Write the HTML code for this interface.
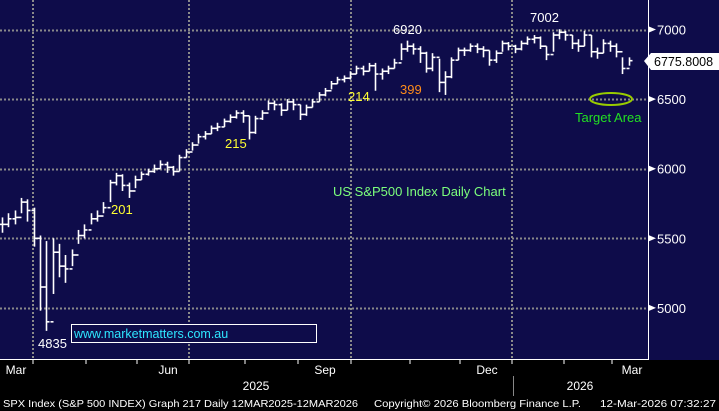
<!DOCTYPE html>
<html><head><meta charset="utf-8"><style>
html,body{margin:0;padding:0;background:#000;}
svg{display:block;font-family:"Liberation Sans",sans-serif;}
</style></head><body>
<svg id="chart" width="719" height="411" viewBox="0 0 719 411" xmlns="http://www.w3.org/2000/svg">
<rect x="0" y="0" width="719" height="360" fill="#0e0c4a"/>
<rect x="0" y="360" width="719" height="51" fill="#000"/>
<g id="grid"></g>
<g id="bars"></g>
<line x1="648.5" y1="0" x2="648.5" y2="360" stroke="#fff" stroke-width="1"/>
<line x1="0" y1="359.5" x2="648" y2="359.5" stroke="#fff" stroke-width="1"/>
<g id="yaxis"></g>
<g id="xaxis"></g>
<text x="256" y="390" fill="#fff" font-size="12" text-anchor="middle">2025</text>
<line x1="513.5" y1="376" x2="513.5" y2="396" stroke="#888" stroke-width="1"/>
<text x="580" y="390" fill="#fff" font-size="12" text-anchor="middle">2026</text>
<text x="3" y="407" fill="#fff" font-size="10.5" textLength="355" lengthAdjust="spacingAndGlyphs">SPX Index (S&amp;P 500 INDEX) Graph 217 Daily 12MAR2025-12MAR2026</text>
<text x="374" y="407" fill="#fff" font-size="10.5" textLength="207" lengthAdjust="spacingAndGlyphs">Copyright© 2026 Bloomberg Finance L.P.</text>
<text x="600" y="407" fill="#fff" font-size="10.5" textLength="116" lengthAdjust="spacingAndGlyphs">12-Mar-2026 07:32:27</text>
<text x="38" y="348" fill="#fff" font-size="13">4835</text>
<text x="393" y="34" fill="#fff" font-size="13">6920</text>
<text x="530" y="22" fill="#fff" font-size="13">7002</text>
<text x="111" y="214" fill="#ffff33" font-size="13">201</text>
<text x="225" y="148" fill="#ffff33" font-size="13">215</text>
<text x="348" y="101" fill="#ffff33" font-size="13">214</text>
<text x="400" y="94" fill="#ff8c1a" font-size="13">399</text>
<text x="333" y="196" fill="#7cff7c" font-size="13">US S&amp;P500 Index Daily Chart</text>
<rect x="71.5" y="324.5" width="245" height="18" fill="#0e0c4a" stroke="#fff" stroke-width="1"/>
<text x="74" y="338" fill="#2ee6ff" font-size="12.5">www.marketmatters.com.au</text>
<ellipse cx="611" cy="99" rx="21" ry="6" fill="none" stroke="#99cc00" stroke-width="2"/>
<text x="575" y="122" fill="#22e022" font-size="13">Target Area</text>
<g>
<polygon points="644,61 651,53 719,53 719,70 651,70" fill="#fff"/>
<text x="654" y="66" fill="#000" font-size="12.5">6775.8008</text>
</g>
</svg>
<script>
const yTicks = [7000, 6500, 6000, 5500, 5000];
const monthLabels = ["Mar", "Jun", "Sep", "Dec", "Mar"];
const monthLabelX = [16, 168, 325, 487, 632];
const closes = [5600,5640,5650,5760,5700,5500,5150,4900,5400,5300,5280,5380,5520,5560,5640,5660,5720,5900,5950,5880,
5840,5920,5960,5980,6000,6030,6010,5980,6080,6120,6170,6230,6250,6290,6300,6340,6370,6400,6380,6260,
6360,6400,6470,6460,6420,6480,6460,6390,6440,6480,6530,6560,6610,6640,6650,6680,6720,6700,6740,6680,
6700,6720,6760,6860,6880,6860,6830,6720,6800,6620,6660,6780,6850,6850,6880,6860,6850,6780,6830,6900,
6880,6860,6900,6930,6940,6880,6820,6960,6980,6960,6900,6880,6960,6840,6830,6900,6880,6840,6720,6776];
const highs = [5650,5680,5700,5790,5780,5720,5520,5480,5500,5460,5380,5420,5560,5600,5680,5700,5760,5920,5970,5960,
5900,5950,5980,6000,6030,6060,6050,6020,6100,6140,6190,6250,6270,6310,6330,6360,6390,6420,6420,6380,
6380,6420,6490,6490,6470,6500,6500,6460,6460,6500,6550,6580,6630,6660,6670,6700,6740,6740,6760,6760,
6720,6740,6790,6900,6920,6900,6880,6840,6830,6790,6700,6800,6870,6870,6900,6900,6880,6850,6850,6920,
6910,6890,6920,6950,6960,6950,6880,6980,7002,6990,6960,6930,6990,6960,6870,6930,6920,6900,6800,6800];
const lows = [5540,5580,5600,5680,5620,5440,4980,4835,5100,5220,5180,5300,5460,5500,5600,5620,5680,5760,5880,5840,
5790,5860,5920,5950,5970,6000,5970,5950,5980,6080,6130,6180,6210,6250,6270,6300,6330,6360,6330,6210,
6250,6350,6420,6420,6380,6420,6420,6350,6380,6440,6480,6520,6570,6610,6620,6640,6680,6670,6700,6560,
6640,6680,6720,6780,6840,6820,6760,6690,6700,6550,6530,6650,6780,6810,6840,6830,6800,6740,6760,6840,
6850,6830,6850,6890,6900,6860,6780,6840,6930,6920,6860,6840,6880,6800,6790,6830,6840,6800,6680,6740];

const NS = "http://www.w3.org/2000/svg";
function yScale(v){ return 29.5 + (7000 - v) * 0.1392; }
function xScale(i){ return 2 + i * 6.33; }
function mk(tag, attrs, parent){ const e=document.createElementNS(NS,tag); for(const k in attrs) e.setAttribute(k,attrs[k]); parent.appendChild(e); return e; }

const grid = document.getElementById('grid');
yTicks.forEach(t=>{
  const y = Math.round(yScale(t))+0.5;
  const l = mk('line',{x1:0,y1:y,x2:648,y2:y,stroke:'#8a8a8a','stroke-width':2,'stroke-dasharray':'2,2'},grid);
  
  
});
[33,189,351,512].forEach(x=>{
  const l = mk('line',{x1:x,y1:0,x2:x,y2:359,stroke:'#8a8a8a','stroke-width':2,'stroke-dasharray':'2,2'},grid);
  
  
});

const yaxis = document.getElementById('yaxis');
yTicks.forEach(t=>{
  const y = yScale(t);
  const p = mk('polygon',{points:`649,${y-3} 656,${y} 649,${y+3}`,fill:'#fff'},yaxis);
  
  
  const tx = mk('text',{x:657,y:y+5,fill:'#fff','font-size':13},yaxis);
  tx.textContent = t;
  
  
});

const xaxis = document.getElementById('xaxis');
[33,86,137,189,245,298,351,410,460,512,564,612].forEach(x=>{
  const l = mk('line',{x1:x,y1:360,x2:x,y2:364,stroke:'#fff','stroke-width':1},xaxis);
  
  
});
monthLabels.forEach((m,i)=>{
  const tx = mk('text',{x:monthLabelX[i],y:374,fill:'#fff','font-size':12,'text-anchor':'middle'},xaxis);
  tx.textContent = m;
  
  
});

const bars = document.getElementById('bars');
closes.forEach((c,i)=>{
  const x = Math.round(xScale(i))+0.5;
  const o = i>0 ? closes[i-1] : c;
  const g = mk('g',{},bars);
  
  
  mk('line',{x1:x,y1:yScale(highs[i]),x2:x,y2:yScale(lows[i]),stroke:'#fff','stroke-width':1.6},g);
  mk('line',{x1:x-3,y1:yScale(o),x2:x,y2:yScale(o),stroke:'#fff','stroke-width':1.6},g);
  mk('line',{x1:x,y1:yScale(c),x2:x+3,y2:yScale(c),stroke:'#fff','stroke-width':1.6},g);
});
</script>
</body></html>
